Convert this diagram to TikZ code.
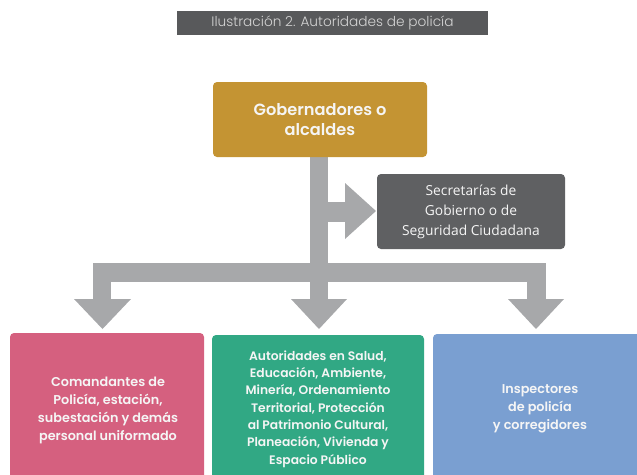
\documentclass[tikz,border=0pt]{standalone}
\usepackage{fontspec}
\setmainfont{Poppins}[BoldFont={Poppins SemiBold}]
\newfontfamily\titlefont{Poppins Light}
\newfontfamily\secfont{Open Sans}
\definecolor{titlebg}{HTML}{58595B}
\definecolor{titletx}{HTML}{D4D4D4}
\definecolor{gold}{HTML}{C49433}
\definecolor{secbg}{HTML}{5F6062}
\definecolor{arrowgray}{HTML}{A7A8AA}
\definecolor{pinkbox}{HTML}{D5607F}
\definecolor{greenbox}{HTML}{31A884}
\definecolor{bluebox}{HTML}{7A9FD1}
\tikzset{
  boxbase/.style={rounded corners=4pt, inner sep=0pt, align=center, text=white!96!black},
  arrowfill/.style={fill=arrowgray, draw=none},
}
\begin{document}
\begin{tikzpicture}[x=1pt,y=-1pt]
\useasboundingbox (0,0) rectangle (637,474);
\clip (0,0) rectangle (637,474);
% title
\node[fill=titlebg, minimum width=311pt, minimum height=24pt, inner sep=0pt,
      text=titletx, font=\titlefont\fontsize{13.7}{16}\selectfont] (title) at (332.5,23) {Ilustración 2. Autoridades de policía};
% arrows
\fill[arrowfill] (310,157) rectangle (328,299);
\fill[arrowfill] (93,263) rectangle (546,282);
\fill[arrowfill] (93,282) rectangle (111,299);
\fill[arrowfill] (527,282) rectangle (546,299);
\fill[arrowfill] (74,299) -- (131,299) -- (102.5,329) -- cycle;
\fill[arrowfill] (291,299) -- (347,299) -- (319,329) -- cycle;
\fill[arrowfill] (508,299) -- (564,299) -- (536,329) -- cycle;
\fill[arrowfill] (327,202) rectangle (346,222);
\fill[arrowfill] (345,183) -- (345,239) -- (376,211) -- cycle;
% boxes
\node[boxbase, fill=gold, minimum width=214pt, minimum height=75pt,
      font=\bfseries\fontsize{16.2}{20}\selectfont] (gob) at (320,119.5) {Gobernadores o\\alcaldes};
\node[boxbase, fill=secbg, minimum width=188pt, minimum height=75pt,
      font=\secfont\fontsize{13.8}{20}\selectfont] (sec) at (471,211.5) {Secretarías de\\Gobierno o de\\Seguridad Ciudadana};
\node[boxbase, fill=pinkbox, minimum width=194pt, minimum height=160pt] (pink) at (107,413) {};
\node[boxbase, font=\bfseries\fontsize{12.8}{18}\selectfont] (pinktx) at (108,410) {Comandantes de\\Policía, estación,\\subestación y demás\\personal uniformado};
\node[boxbase, fill=greenbox, minimum width=212pt, minimum height=160pt] (green) at (318,415) {};
\node[boxbase, font=\bfseries\fontsize{12.3}{17.3}\selectfont] (greentx) at (318,409) {Autoridades en Salud,\\Educación, Ambiente,\\Minería, Ordenamiento\\Territorial, Protección\\al Patrimonio Cultural,\\Planeación, Vivienda y\\Espacio Público};
\node[boxbase, fill=bluebox, minimum width=217pt, minimum height=160pt] (blue) at (541.5,414) {};
\node[boxbase, font=\bfseries\fontsize{12.8}{18}\selectfont] (bluetx) at (540,409) {Inspectores\\de policía\\y corregidores};
\end{tikzpicture}
\end{document}
